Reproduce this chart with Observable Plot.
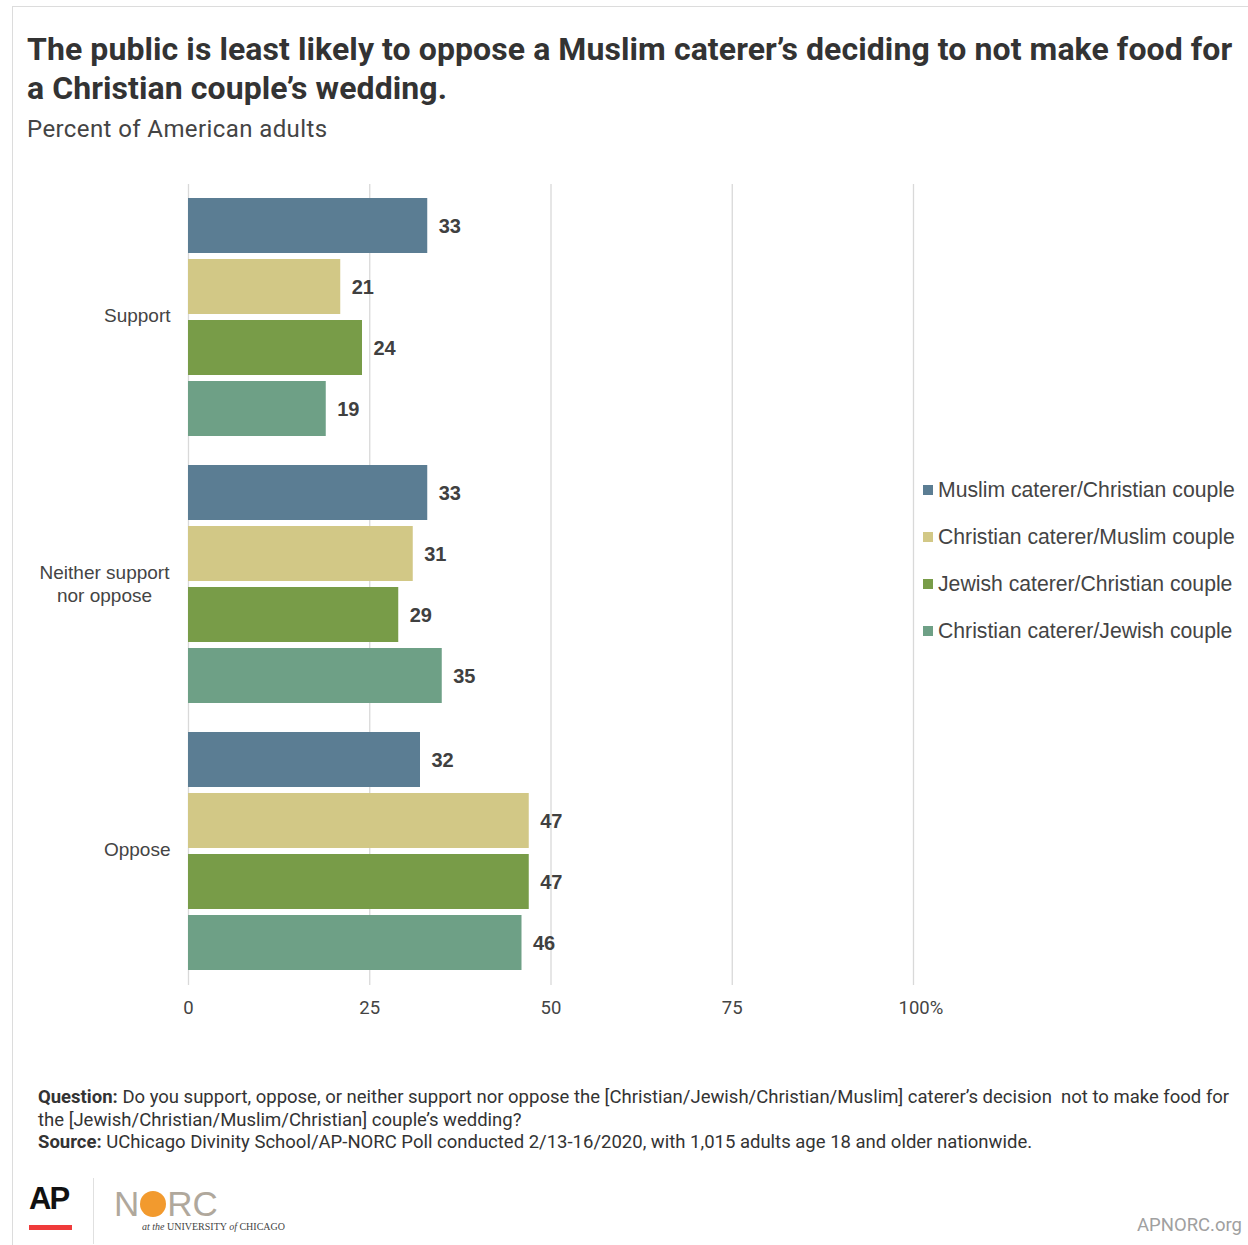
<!DOCTYPE html>
<html>
<head>
<meta charset="utf-8">
<script src="https://cdn.jsdelivr.net/npm/d3@7"></script>
<script src="https://cdn.jsdelivr.net/npm/@observablehq/plot@0.6"></script>
<style>
  html, body { margin: 0; padding: 0; background: #fff; }
  body { width: 1248px; height: 1245px; position: relative; overflow: hidden; font-family: Roboto, "Liberation Sans", sans-serif; }
  .frame { position: absolute; left: 12px; top: 6px; width: 1240px; height: 1245px; border-left: 1px solid #dcdcdc; border-top: 1px solid #dcdcdc; }
  .title { position: absolute; left: 27px; top: 30px; font-weight: 700; font-size: 32px; line-height: 39px; color: #333; letter-spacing: 0.08px; white-space: nowrap; }
  .subtitle { position: absolute; left: 27px; top: 115px; font-size: 24px; color: #444; letter-spacing: 0.4px; white-space: nowrap; }
  #chart { position: absolute; left: 0; top: 170px; }
  .legend { position: absolute; left: 923px; top: 476px; font-family: "Liberation Sans", Arial, sans-serif; font-size: 21.2px; color: #444; }
  .legend div { height: 47px; line-height: 28px; white-space: nowrap; }
  .legend span.sw { display: inline-block; width: 10px; height: 10px; margin-right: 5px; vertical-align: 2px; }
  .notes { position: absolute; left: 38px; top: 1086px; font-size: 18.5px; line-height: 22.5px; color: #333; letter-spacing: 0px; white-space: nowrap; }
  .notes b { font-weight: 700; }
  .ap { position: absolute; left: 29px; top: 1182px; line-height: 34px; font-family: "Liberation Sans", Arial, sans-serif; font-weight: 700; font-size: 31px; letter-spacing: -2px; color: #111; }
  .apbar { position: absolute; left: 29px; top: 1225px; width: 43px; height: 5px; background: #ef3b3b; }
  .vline { position: absolute; left: 93px; top: 1178px; width: 1px; height: 66px; background: #e0e0e0; }
  .norc { position: absolute; left: 114px; top: 1186px; line-height: 36px; font-family: "Liberation Sans", Arial, sans-serif; font-size: 35px; color: #b0a89c; letter-spacing: 0px; font-weight: 400; }
  .norc .o { display: inline-block; width: 26px; height: 26px; border-radius: 50%; background: #f29a2e; vertical-align: -1px; margin: 0 1px; }
  .uc { position: absolute; left: 142px; top: 1220px; line-height: 13px; font-family: "Liberation Serif", serif; font-size: 10px; color: #444; white-space: nowrap; }
  .apnorc { position: absolute; right: 6px; top: 1214px; font-size: 18.5px; color: #a0a0a0; }
</style>
</head>
<body>
<div class="frame"></div>
<div class="title">The public is least likely to oppose a Muslim caterer’s deciding to not make food for<br>a Christian couple’s wedding.</div>
<div class="subtitle">Percent of American adults</div>
<div id="chart"></div>
<div class="legend" id="legend"></div>
<div class="notes"><b>Question:</b> Do you support, oppose, or neither support nor oppose the [Christian/Jewish/Christian/Muslim] caterer’s decision&nbsp; not to make food for<br>the [Jewish/Christian/Muslim/Christian] couple’s wedding?<br><b>Source:</b> UChicago Divinity School/AP-NORC Poll conducted 2/13-16/2020, with 1,015 adults age 18 and older nationwide.</div>
<div class="ap">AP</div>
<div class="apbar"></div>
<div class="vline"></div>
<div class="norc">N<span class="o"></span>RC</div>
<div class="uc"><i>at the</i> UNIVERSITY <i>of</i> CHICAGO</div>
<div class="apnorc">APNORC.org</div>
<script>
const groups = ["Support", "Neither support\nnor oppose", "Oppose"];
const series = ["Muslim caterer/Christian couple", "Christian caterer/Muslim couple", "Jewish caterer/Christian couple", "Christian caterer/Jewish couple"];
const colors = ["#5b7d93", "#d2c886", "#789c48", "#6ea086"];
const supportValues = [33, 21, 24, 19];
const neitherValues = [33, 31, 29, 35];
const opposeValues = [32, 47, 47, 46];
const xTicks = [0, 25, 50, 75, 100];

const valuesByGroup = [supportValues, neitherValues, opposeValues];
const data = [];
groups.forEach((g, gi) => series.forEach((s, si) => data.push({group: g, series: s, value: valuesByGroup[gi][si]})));

const labelFont = "'Liberation Sans', Arial, sans-serif";
const chart = Plot.plot({
  width: 1248,
  height: 860,
  marginLeft: 188,
  marginRight: 335,
  marginTop: 28,
  marginBottom: 60,
  style: {fontFamily: "Roboto, 'Liberation Sans', sans-serif", background: "transparent"},
  x: {domain: [0, 100], axis: null},
  y: {domain: series, paddingInner: 0.1, paddingOuter: 0, axis: null},
  fy: {domain: groups, paddingInner: 0.109, paddingOuter: 0, axis: null},
  color: {domain: series, range: colors},
  marks: [
    Plot.ruleX(xTicks, {x: d => d, stroke: "#d9d9d9", strokeWidth: 1.3, insetTop: -14, insetBottom: -15}),
    Plot.barX(data, {y: "series", fy: "group", x: "value", fill: "series"}),
    Plot.text(data, {y: "series", fy: "group", x: "value", text: d => String(d.value), textAnchor: "start", dx: 11, dy: 1, fontWeight: "bold", fontSize: 20, fill: "#404040", fontFamily: labelFont}),
    Plot.axisFy({ticks: [groups[0], groups[2]], anchor: "left", tickSize: 0, tickPadding: 18, dy: -2, fontSize: 19, fill: "#444", fontFamily: labelFont, label: null}),
    Plot.axisFy({ticks: [groups[1]], anchor: "left", tickSize: 0, tickPadding: 18, textAnchor: "middle", dx: -66, dy: -1, fontSize: 19, fill: "#444", fontFamily: labelFont, label: null, lineHeight: 1.2}),
    Plot.axisX({ticks: xTicks.slice(0, 4), tickSize: 0, tickPadding: 30, fontSize: 18.5, fill: "#444", label: null, facetAnchor: "bottom"}),
    Plot.axisX({ticks: [100], tickSize: 0, tickPadding: 30, fontSize: 18.5, fill: "#444", textAnchor: "start", dx: -15, tickFormat: d => d + "%", label: null, facetAnchor: "bottom"})
  ]
});
document.getElementById("chart").appendChild(chart);

const legend = document.getElementById("legend");
series.forEach((s, i) => {
  const row = document.createElement("div");
  row.innerHTML = `<span class="sw" style="background:${colors[i]}"></span>${s}`;
  legend.appendChild(row);
});
</script>
</body>
</html>
